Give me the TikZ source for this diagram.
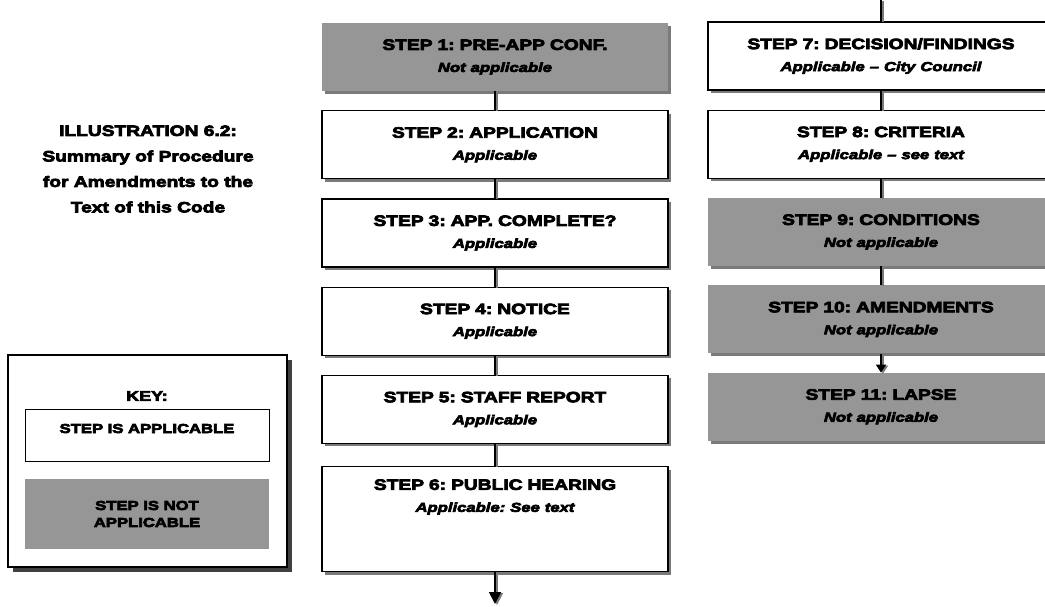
\documentclass[tikz,border=0pt]{standalone}
\usepackage{fontspec}
\newfontfamily\heavyfont{Liberation Sans}[FakeStretch=1.28,FakeBold=5]
\usetikzlibrary{positioning,shadows,arrows.meta}
\definecolor{stepgray}{RGB}{150,150,150}
\definecolor{shadegray}{RGB}{122,122,122}
\newcommand\stepnote[1]{{\fontsize{13}{15}\selectfont\itshape #1}}
\frenchspacing
\begin{document}
\begin{tikzpicture}[x=1pt,y=-1pt]
        \path[use as bounding box, clip] (0,0) rectangle (1045,606);
        \tikzstyle{every node}=[font=\heavyfont\bfseries\fontsize{15}{22}\selectfont, align=center]
        \tikzstyle{stepbox}=[minimum width=346pt, minimum height=68pt, text width=330pt, inner xsep=8pt, inner ysep=0pt, drop shadow={shadow xshift=3pt, shadow yshift=-3pt, fill=shadegray, opacity=1}]
        \tikzstyle{applic}=[stepbox, draw, line width=1.2pt, fill=white]
        \tikzstyle{notapplic}=[stepbox, fill=stepgray]
        \tikzstyle{link}=[line width=1.8pt, preaction={draw=shadegray, line width=1.8pt, transform canvas={xshift=2pt, yshift=-1pt}}]

        \node (title) at (148,169) [font=\heavyfont\bfseries\fontsize{15}{25.5}\selectfont] {ILLUSTRATION 6.2:\\Summary of Procedure\\for Amendments to the\\Text of this Code};

        \node (key) at (147.5,461) [draw, line width=1.6pt, fill=white, minimum width=279pt, minimum height=212pt, drop shadow={shadow xshift=5pt, shadow yshift=-5pt, fill=black!75, opacity=1}] {};
        \node (keytitle) at (147,396) [font=\heavyfont\bfseries\fontsize{14}{16}\selectfont] {KEY:};
        \node (keyapp) at (147,435) [draw, line width=0.8pt, minimum width=244pt, inner ysep=0pt, text height=24pt, text depth=28pt, font=\heavyfont\bfseries\fontsize{13}{17}\selectfont] {STEP IS APPLICABLE};
        \node (keynot) at (147,514) [fill=stepgray, minimum width=244pt, minimum height=70pt, font=\heavyfont\bfseries\fontsize{13}{17}\selectfont] {STEP IS NOT\\APPLICABLE};

        \node (step1) at (495,57) [notapplic] {STEP 1: PRE-APP CONF.\\\stepnote{Not applicable}};
        \node (step2) [applic, below=19pt of step1] {STEP 2: APPLICATION\\\stepnote{Applicable}};
        \node (step3) [applic, below=19pt of step2] {STEP 3: APP. COMPLETE?\\\stepnote{Applicable}};
        \node (step4) [applic, below=19pt of step3] {STEP 4: NOTICE\\\stepnote{Applicable}};
        \node (step5) [applic, below=19pt of step4] {STEP 5: STAFF REPORT\\\stepnote{Applicable}};
        \node (step6) [applic, below=22pt of step5, minimum height=105pt] {STEP 6: PUBLIC HEARING\\\stepnote{Applicable: See text}\\[25pt]~};

        \node (step7) at (881,56) [applic] {STEP 7: DECISION/FINDINGS\\\stepnote{Applicable – City Council}};
        \node (step8) [applic, below=19pt of step7] {STEP 8: CRITERIA\\\stepnote{Applicable – see text}};
        \node (step9) [notapplic, below=19pt of step8] {STEP 9: CONDITIONS\\\stepnote{Not applicable}};
        \node (step10) [notapplic, below=19pt of step9] {STEP 10: AMENDMENTS\\\stepnote{Not applicable}};
        \node (step11) [notapplic, below=19pt of step10] {STEP 11: LAPSE\\\stepnote{Not applicable}};

        \coordinate (intop) at (881,0);
        \coordinate (outbottom) at (495,604);

        \draw[link] (step1) -- (step2);
        \draw[link] (step2) -- (step3);
        \draw[link] (step3) -- (step4);
        \draw[link] (step4) -- (step5);
        \draw[link] (step5) -- (step6);
        \draw[link, -{Triangle[width=12pt, length=12pt]}] (step6) -- (outbottom);
        \draw[link] (intop) -- (step7);
        \draw[link] (step7) -- (step8);
        \draw[link] (step8) -- (step9);
        \draw[link] (step9) -- (step10);
        \draw[link, -{Triangle[width=10pt, length=8pt]}] (step10) -- (step11);
\end{tikzpicture}
\end{document}
